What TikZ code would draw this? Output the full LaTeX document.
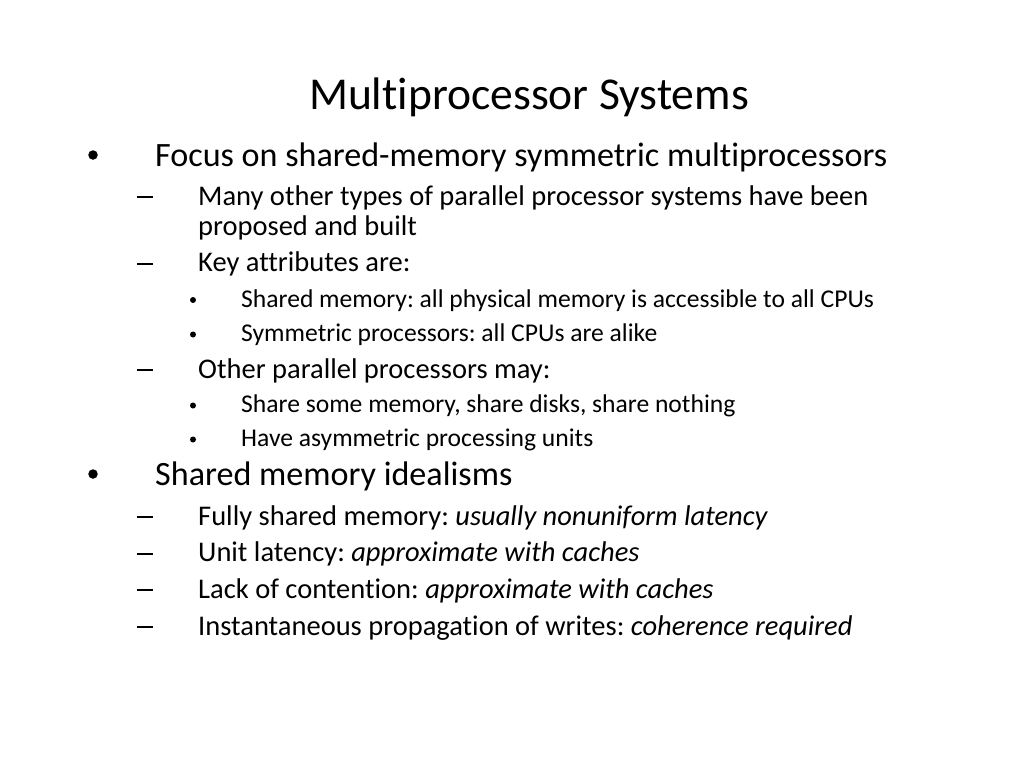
\documentclass[tikz,border=0pt]{standalone}
\usepackage{fontspec}
\setmainfont{Carlito}[Ligatures=NoCommon]
\begin{document}
\frenchspacing
\begin{tikzpicture}[x=1pt,y=-1pt,
  title/.style={anchor=base,inner sep=0pt,font=\fontsize{45.6}{50}\selectfont},
  lone/.style={anchor=base west,inner sep=0pt,font=\fontsize{34.1}{38}\selectfont},
  ltwo/.style={anchor=base west,inner sep=0pt,font=\fontsize{28.5}{32}\selectfont},
  lthree/.style={anchor=base west,inner sep=0pt,font=\fontsize{25.6}{30}\selectfont},
  bigdot/.style={circle,fill=black,inner sep=0pt,minimum size=9.5pt},
  smalldot/.style={circle,fill=black,inner sep=0pt,minimum size=6pt},
  dashmark/.style={anchor=center,fill=black,inner sep=0pt,minimum width=16pt,minimum height=1.8pt}]
\useasboundingbox[fill=white] (0,0) rectangle (1024,768);
\node[title] (t) at (529,109.3) {Multiprocessor Systems};
% level 1
\node[bigdot] (b1) at (93,155) {};
\node[lone] (a1) at (155,166) {Focus on shared-memory symmetric multiprocessors};
\node[dashmark] (d1) at (145,197) {};
\node[ltwo] (a2) at (198,205) {Many other types of parallel processor systems have been};
\node[ltwo] (a2b) at (198,235) {proposed and built};
\node[dashmark] (d2) at (145,263.7) {};
\node[ltwo] (a3) at (198,271.7) {Key attributes are:};
\node[smalldot] (b2) at (193,300) {};
\node[lthree] (a4) at (241,307.3) {Shared memory: all physical memory is accessible to all CPUs};
\node[smalldot] (b3) at (193,334.5) {};
\node[lthree] (a5) at (241,341.7) {Symmetric processors: all CPUs are alike};
\node[dashmark] (d3) at (145,370.3) {};
\node[ltwo] (a6) at (198,378.3) {Other parallel processors may:};
\node[smalldot] (b4) at (193,405.5) {};
\node[lthree] (a7) at (241,412.7) {Share some memory, share disks, share nothing};
\node[smalldot] (b5) at (193,439.5) {};
\node[lthree] (a8) at (241,446.7) {Have asymmetric processing units};
\node[bigdot] (b6) at (93,474) {};
\node[lone] (a9) at (155,485) {Shared memory idealisms};
\node[dashmark] (d4) at (145,517) {};
\node[ltwo] (a10) at (198,525) {Fully shared memory: \textit{usually nonuniform latency}};
\node[dashmark] (d5) at (145,553.7) {};
\node[ltwo] (a11) at (198,561.7) {Unit latency: \textit{approximate with caches}};
\node[dashmark] (d6) at (145,590) {};
\node[ltwo] (a12) at (198,598) {Lack of contention: \textit{approximate with caches}};
\node[dashmark] (d7) at (145,627) {};
\node[ltwo] (a13) at (198,635) {Instantaneous propagation of writes: \textit{coherence required}};
\end{tikzpicture}
\end{document}
